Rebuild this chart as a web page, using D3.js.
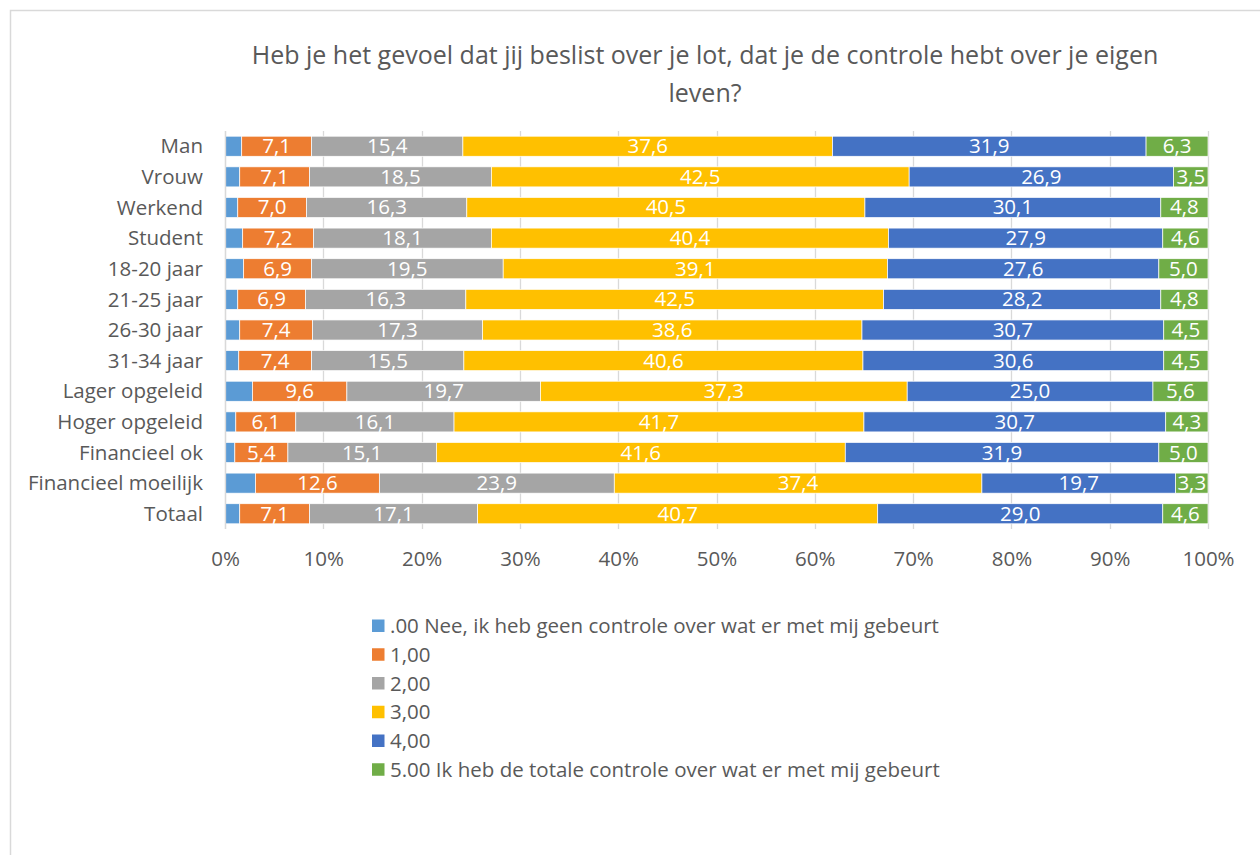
<!DOCTYPE html>
<html>
<head>
<meta charset="utf-8">
<script src="https://cdn.jsdelivr.net/npm/d3@7"></script>
<style>
	body { margin: 0; background: #fff; }
	svg text { font-family: "Open Sans", sans-serif; fill: #595959; }
</style>
</head>
<body>
<div class="chart"></div>
<script>
var categories = ['Man', 'Vrouw', 'Werkend', 'Student', '18-20 jaar', '21-25 jaar', '26-30 jaar', '31-34 jaar',
	'Lager opgeleid', 'Hoger opgeleid', 'Financieel ok', 'Financieel moeilijk', 'Totaal'];
var seriesNames = ['.00 Nee, ik heb geen controle over wat er met mij gebeurt', '1,00', '2,00', '3,00', '4,00',
	'5.00 Ik heb de totale controle over wat er met mij gebeurt'];
// .00 is not labelled in the picture, estimated as the rest to 100
var s0 = [1.7, 1.5, 1.3, 1.8, 1.9, 1.3, 1.5, 1.4, 2.8, 1.1, 1.0, 3.1, 1.5];
var s1 = [7.1, 7.1, 7.0, 7.2, 6.9, 6.9, 7.4, 7.4, 9.6, 6.1, 5.4, 12.6, 7.1];
var s2 = [15.4, 18.5, 16.3, 18.1, 19.5, 16.3, 17.3, 15.5, 19.7, 16.1, 15.1, 23.9, 17.1];
var s3 = [37.6, 42.5, 40.5, 40.4, 39.1, 42.5, 38.6, 40.6, 37.3, 41.7, 41.6, 37.4, 40.7];
var s4 = [31.9, 26.9, 30.1, 27.9, 27.6, 28.2, 30.7, 30.6, 25.0, 30.7, 31.9, 19.7, 29.0];
var s5 = [6.3, 3.5, 4.8, 4.6, 5.0, 4.8, 4.5, 4.5, 5.6, 4.3, 5.0, 3.3, 4.6];
var ticks = [0, 0.1, 0.2, 0.3, 0.4, 0.5, 0.6, 0.7, 0.8, 0.9, 1];
var colors = ['#5b9bd5', '#ed7d31', '#a5a5a5', '#ffc000', '#4472c4', '#70ad47'];

var W = 1260, H = 855;
var fs = '20.5px';
var svg = d3.select('.chart').append('svg').attr('width', W).attr('height', H);

// chart area border
svg.append('rect').attr('x', 10.5).attr('y', 10.5).attr('width', W + 20).attr('height', H + 20)
	.attr('fill', 'none').attr('stroke', '#d9d9d9').attr('stroke-width', 1.5);

svg.append('text').attr('x', 705).attr('y', 64).attr('text-anchor', 'middle').style('font-size', '25px')
	.text('Heb je het gevoel dat jij beslist over je lot, dat je de controle hebt over je eigen');
svg.append('text').attr('x', 705).attr('y', 102).attr('text-anchor', 'middle').style('font-size', '25px')
	.text('leven?');

var x = d3.scaleLinear().domain([0, 1]).range([225, 1208]);
var y = d3.scaleBand().domain(categories).range([131, 529]).paddingInner(0.345).paddingOuter(0.17);

var series = [s0, s1, s2, s3, s4, s5];
var rows = categories.map(function(c, i) {
	var r = {cat: c};
	series.forEach(function(s, k) { r['k' + k] = s[i]; });
	return r;
});
var keys = series.map(function(s, k) { return 'k' + k; });
var stacked = d3.stack().keys(keys).offset(d3.stackOffsetExpand)(rows);

// gridlines
svg.append('g').selectAll('line').data(ticks).enter().append('line')
	.attr('x1', function(d) { return Math.round(x(d)) + 0.5; })
	.attr('x2', function(d) { return Math.round(x(d)) + 0.5; })
	.attr('y1', 131).attr('y2', 529)
	.attr('stroke', '#d9d9d9').attr('stroke-width', 1.3);

var layers = svg.append('g').selectAll('g').data(stacked).enter().append('g')
	.attr('fill', function(d, k) { return colors[k]; });
layers.selectAll('rect').data(function(d) { return d; }).enter().append('rect')
	.attr('x', function(d) { return x(d[0]); })
	.attr('y', function(d) { return y(d.data.cat); })
	.attr('width', function(d) { return x(d[1]) - x(d[0]); })
	.attr('height', y.bandwidth())
	.attr('stroke', '#fff').attr('stroke-width', 0.7);

// data labels, not for the first series
layers.filter(function(d) { return d.index > 0; }).selectAll('text')
	.data(function(d) { return d.map(function(p) { return {p: p, v: p.data[d.key]}; }); })
	.enter().append('text')
	.attr('x', function(d) { return (x(d.p[0]) + x(d.p[1])) / 2; })
	.attr('y', function(d) { return y(d.p.data.cat) + y.bandwidth() / 2 + 7; })
	.attr('text-anchor', 'middle')
	.style('font-size', fs).style('fill', '#fff')
	.text(function(d) { return d3.format('.1f')(d.v).replace('.', ','); });

// category axis
var yAxis = svg.append('g').attr('transform', 'translate(225,0)')
	.call(d3.axisLeft(y).tickSize(0).tickPadding(22));
yAxis.select('.domain').remove();
yAxis.selectAll('text').style('font-size', fs).attr('dy', '0.35em');
yAxis.append('line').attr('x1', 0.5).attr('x2', 0.5).attr('y1', 131).attr('y2', 529)
	.attr('stroke', '#d9d9d9').attr('stroke-width', 1.3);

// value axis
var xAxis = svg.append('g').attr('transform', 'translate(0,529)')
	.call(d3.axisBottom(x).tickValues(ticks).tickFormat(d3.format('.0%')).tickSize(0));
xAxis.select('.domain').remove();
xAxis.selectAll('text').style('font-size', fs).attr('y', 37).attr('dy', 0);

// legend
var legend = svg.append('g').selectAll('g').data(seriesNames).enter().append('g')
	.attr('transform', function(d, i) { return 'translate(372,' + (619.5 + i * 28.75) + ')'; });
legend.append('rect').attr('width', 12.5).attr('height', 12.5).attr('fill', function(d, i) { return colors[i]; });
legend.append('text').attr('x', 18).attr('y', 13.5).style('font-size', fs).text(function(d) { return d; });
</script>
</body>
</html>
